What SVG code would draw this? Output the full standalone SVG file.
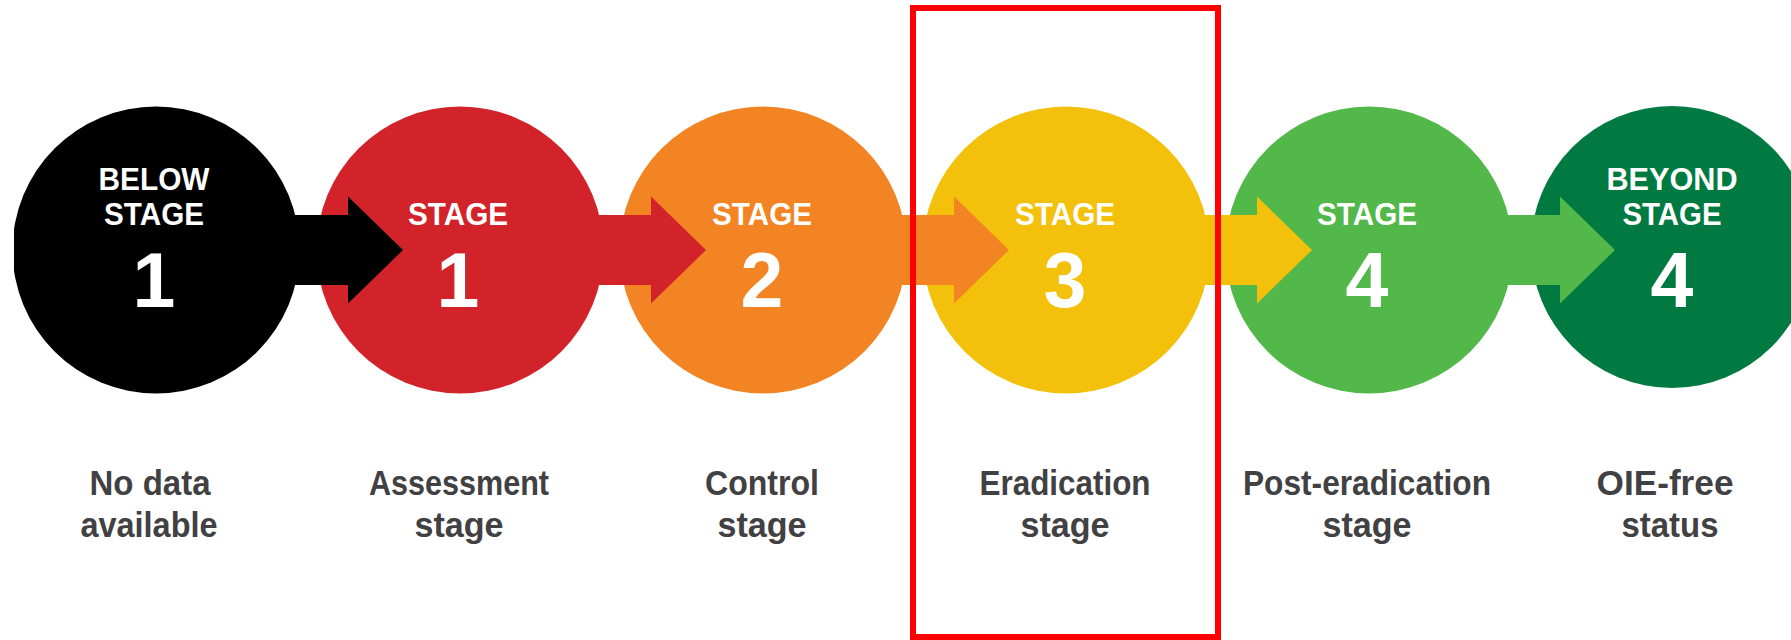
<svg xmlns="http://www.w3.org/2000/svg" width="1791" height="640" viewBox="0 0 1791 640">
  <style>
    .title { font-family: "Liberation Sans", Arial, sans-serif; font-weight: bold; font-size: 32px; fill: #ffffff; text-anchor: middle; }
    .num { font-family: "Liberation Sans", Arial, sans-serif; font-weight: bold; font-size: 77px; fill: #ffffff; text-anchor: middle; }
    .label { font-family: "Liberation Sans", Arial, sans-serif; font-weight: bold; font-size: 35px; fill: #414042; text-anchor: middle; }
    .frame { fill: none; stroke: #ff0000; stroke-width: 6; }
  </style>
  <defs>
    <clipPath id="clipLeft">
      <rect x="14" y="0" width="1777" height="640"/>
    </clipPath>
  </defs>
  <rect x="0" y="0" width="1791" height="640" fill="#ffffff"/>

  <g id="circles">
    <circle id="c0" cx="156" cy="250" r="143.5" fill="#000000" clip-path="url(#clipLeft)"/>
    <circle id="c1" cx="460" cy="250" r="143.5" fill="#D2232A"/>
    <circle id="c2" cx="763" cy="250" r="143.5" fill="#F38423"/>
    <circle id="c3" cx="1066" cy="250" r="143.5" fill="#F3C10C"/>
    <circle id="c4" cx="1369" cy="250" r="143.5" fill="#52B84A"/>
    <circle id="c5" cx="1672" cy="247" r="141" fill="#007A40"/>
  </g>

  <g id="connectors">
    <path d="M256,215 H348 V196.5 L403,250 L348,303.5 V285 H256 Z" fill="#000000"/>
    <path d="M560,215 H651 V196.5 L706,250 L651,303.5 V285 H560 Z" fill="#D2232A"/>
    <path d="M863,215 H954 V196.5 L1009,250 L954,303.5 V285 H863 Z" fill="#F38423"/>
    <path d="M1166,215 H1257 V196.5 L1312,250 L1257,303.5 V285 H1166 Z" fill="#F3C10C"/>
    <path d="M1469,215 H1560 V196.5 L1615,250 L1560,303.5 V285 H1469 Z" fill="#52B84A"/>
  </g>

  <g id="node-below-stage-1">
    <text class="title" x="154" y="190" textLength="111" lengthAdjust="spacingAndGlyphs">BELOW</text>
    <text class="title" x="154" y="225" textLength="100" lengthAdjust="spacingAndGlyphs">STAGE</text>
    <text class="num" x="154" y="307">1</text>
    <text class="label" x="150" y="495" textLength="121" lengthAdjust="spacingAndGlyphs">No data</text>
    <text class="label" x="149" y="537" textLength="137" lengthAdjust="spacingAndGlyphs">available</text>
  </g>

  <g id="node-stage-1">
    <text class="title" x="458" y="225" textLength="100" lengthAdjust="spacingAndGlyphs">STAGE</text>
    <text class="num" x="458" y="307">1</text>
    <text class="label" x="459" y="495" textLength="180" lengthAdjust="spacingAndGlyphs">Assessment</text>
    <text class="label" x="459" y="537" textLength="89" lengthAdjust="spacingAndGlyphs">stage</text>
  </g>

  <g id="node-stage-2">
    <text class="title" x="762" y="225" textLength="100" lengthAdjust="spacingAndGlyphs">STAGE</text>
    <text class="num" x="762" y="307">2</text>
    <text class="label" x="762" y="495" textLength="114" lengthAdjust="spacingAndGlyphs">Control</text>
    <text class="label" x="762" y="537" textLength="89" lengthAdjust="spacingAndGlyphs">stage</text>
  </g>

  <g id="node-stage-3">
    <text class="title" x="1065" y="225" textLength="100" lengthAdjust="spacingAndGlyphs">STAGE</text>
    <text class="num" x="1065" y="307">3</text>
    <text class="label" x="1065" y="495" textLength="171" lengthAdjust="spacingAndGlyphs">Eradication</text>
    <text class="label" x="1065" y="537" textLength="89" lengthAdjust="spacingAndGlyphs">stage</text>
  </g>

  <g id="node-stage-4">
    <text class="title" x="1367" y="225" textLength="100" lengthAdjust="spacingAndGlyphs">STAGE</text>
    <text class="num" x="1367" y="307">4</text>
    <text class="label" x="1367" y="495" textLength="248" lengthAdjust="spacingAndGlyphs">Post-eradication</text>
    <text class="label" x="1367" y="537" textLength="89" lengthAdjust="spacingAndGlyphs">stage</text>
  </g>

  <g id="node-beyond-stage-4">
    <text class="title" x="1672" y="190" textLength="131" lengthAdjust="spacingAndGlyphs">BEYOND</text>
    <text class="title" x="1672" y="225" textLength="99" lengthAdjust="spacingAndGlyphs">STAGE</text>
    <text class="num" x="1672" y="307">4</text>
    <text class="label" x="1665" y="495" textLength="137" lengthAdjust="spacingAndGlyphs">OIE-free</text>
    <text class="label" x="1670" y="537" textLength="97" lengthAdjust="spacingAndGlyphs">status</text>
  </g>

  <g id="highlight">
    <rect class="frame" x="913" y="8" width="305" height="629"/>
  </g>
</svg>
